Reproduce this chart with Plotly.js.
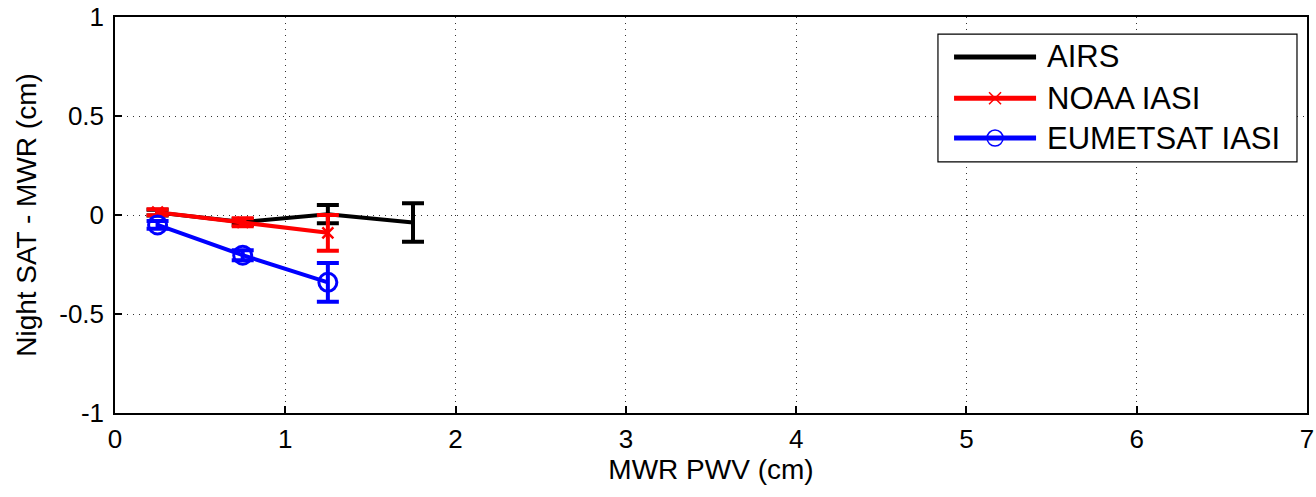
<!DOCTYPE html>
<html><head><meta charset="utf-8">
<script src="https://cdn.plot.ly/plotly-3.0.1.min.js"></script>
<style>body{margin:0;background:#fff}#c{width:1316px;height:497px}</style>
</head><body><div id="c"></div>
<script>
const seriesNames = ['AIRS', 'NOAA IASI', 'EUMETSAT IASI'];
const xPWV = [0.25, 0.75, 1.25, 1.75];
const airsY = [0.012, -0.035, 0.004, -0.038];
const airsErr = [0.015, 0.015, 0.046, 0.097];
const noaaX = [0.25, 0.75, 1.25];
const noaaY = [0.014, -0.037, -0.09];
const noaaErr = [0.015, 0.02, 0.09];
const eumX = [0.25, 0.75, 1.25];
const eumY = [-0.05, -0.203, -0.34];
const eumErr = [0.02, 0.025, 0.098];
const xTicks = [0, 1, 2, 3, 4, 5, 6, 7];
const xTickText = ['0', '1', '2', '3', '4', '5', '6', '7'];
const yTicks = [-1, -0.5, 0, 0.5, 1];
const yTickText = ['-1', '-0.5', '0', '0.5', '1'];

const colors = ['#000000', '#ff0000', '#0000ff'];

function tr(name, x, y, e, color, symbol, msize, mlw){
  return {type:'scatter', mode:'lines+markers', name:name, x:x, y:y, showlegend:false,
    line:{color:color, width:4},
    marker:{symbol:symbol, size:msize, color:color, line:{color:color, width:mlw}},
    error_y:{type:'data', array:e, visible:true, color:color, thickness:4, width:11}};
}
const data = [
  tr(seriesNames[0], xPWV, airsY, airsErr, colors[0], 'circle', 3, 1),
  tr(seriesNames[1], noaaX, noaaY, noaaErr, colors[1], 'x-thin-open', 11, 2.5),
  tr(seriesNames[2], eumX, eumY, eumErr, colors[2], 'circle-open', 18, 3)
];

// manual legend (paper coords)
const lgX0 = 0.6904, lgX1 = 0.9916, lgY0 = 0.634, lgY1 = 0.957;
const lineX0 = 0.7039, lineX1 = 0.7727, markX = 0.7383, textX = 0.7802;
const rowY = [0.899, 0.795, 0.6944];
const shapes = [
  {type:'rect', xref:'paper', yref:'paper', x0:lgX0, x1:lgX1, y0:lgY0, y1:lgY1,
   fillcolor:'#fff', line:{color:'#000', width:1.2}, layer:'above'}
];
const annotations = [];
seriesNames.forEach((n, i) => {
  shapes.push({type:'line', xref:'paper', yref:'paper', x0:lineX0, x1:lineX1, y0:rowY[i], y1:rowY[i],
    line:{color:colors[i], width:5}, layer:'above'});
  annotations.push({xref:'paper', yref:'paper', x:textX, y:rowY[i], xanchor:'left', yanchor:'middle',
    text:n, showarrow:false, font:{size:31, color:'#000'}});
});
// legend markers
shapes.push({type:'line', xref:'paper', yref:'paper', xsizemode:'pixel', ysizemode:'pixel',
  xanchor:markX, yanchor:rowY[1], x0:-6, x1:6, y0:-6, y1:6, line:{color:colors[1], width:1.5}, layer:'above'});
shapes.push({type:'line', xref:'paper', yref:'paper', xsizemode:'pixel', ysizemode:'pixel',
  xanchor:markX, yanchor:rowY[1], x0:-6, x1:6, y0:6, y1:-6, line:{color:colors[1], width:1.5}, layer:'above'});
shapes.push({type:'circle', xref:'paper', yref:'paper', xsizemode:'pixel', ysizemode:'pixel',
  xanchor:markX, yanchor:rowY[2], x0:-8, x1:8, y0:-8, y1:8, line:{color:colors[2], width:1.5}, layer:'above'});

const axisCommon = {showgrid:true, gridcolor:'#333', griddash:'1px,5px', gridwidth:1,
  zeroline:false, showline:true, mirror:true, linecolor:'#000', linewidth:1.5,
  ticks:'inside', ticklen:7, tickcolor:'#000', tickwidth:1.5};
const layout = {
  width:1316, height:497,
  margin:{l:115, r:9, t:17, b:84},
  paper_bgcolor:'#fff', plot_bgcolor:'#fff',
  font:{family:'Arial, "Liberation Sans", sans-serif', size:26, color:'#000'},
  xaxis:Object.assign({range:[0,7], tickmode:'array', tickvals:xTicks, ticktext:xTickText,
    ticklabelstandoff:2,
    title:{text:'MWR PWV (cm)', font:{size:28}, standoff:2}}, axisCommon),
  yaxis:Object.assign({range:[-1,1], tickmode:'array', tickvals:yTicks, ticktext:yTickText,
    ticklabelstandoff:4,
    title:{text:'Night SAT - MWR (cm)', font:{size:28}, standoff:14}}, axisCommon),
  showlegend:false,
  shapes:shapes, annotations:annotations
};
Plotly.newPlot('c', data, layout, {displayModeBar:false});
</script></body></html>
